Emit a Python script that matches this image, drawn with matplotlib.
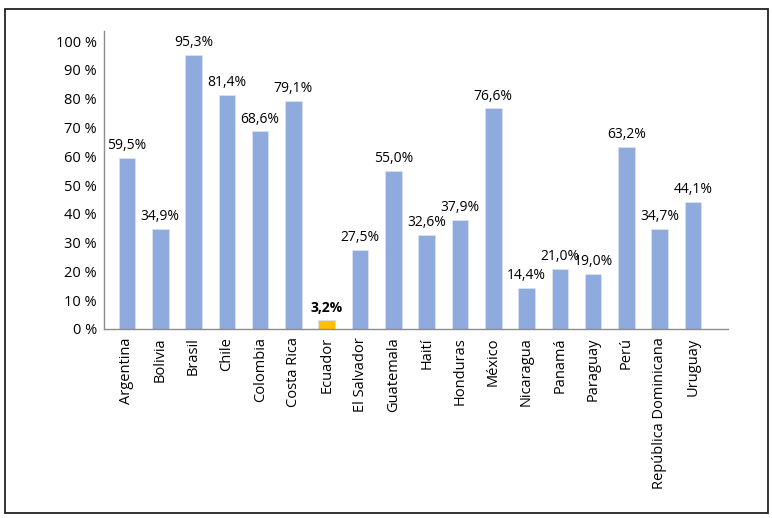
import matplotlib.pyplot as plt
from matplotlib.patches import Rectangle
import numpy as np

plt.rcParams['font.family'] = ['Open Sans', 'DejaVu Sans']

countries = ['Argentina', 'Bolivia', 'Brasil', 'Chile', 'Colombia', 'Costa Rica',
             'Ecuador', 'El Salvador', 'Guatemala', 'Haití', 'Honduras', 'México',
             'Nicaragua', 'Panamá', 'Paraguay', 'Perú', 'República Dominicana', 'Uruguay']
values = [59.5, 34.9, 95.3, 81.4, 68.6, 79.1, 3.2, 27.5, 55.0, 32.6, 37.9, 76.6,
          14.4, 21.0, 19.0, 63.2, 34.7, 44.1]
highlight = 'Ecuador'
yticks = [0, 10, 20, 30, 40, 50, 60, 70, 80, 90, 100]

W, H = 772, 518
fig = plt.figure(figsize=(W / 100, H / 100), dpi=100)
ax = fig.add_axes([104 / W, (H - 329) / H, (728 - 104) / W, (329 - 31) / H])

# marco exterior
fig.patches.append(Rectangle((5 / W, (H - 513) / H), 763 / W, 504 / H,
                             transform=fig.transFigure, fill=False,
                             edgecolor='#222222', linewidth=1.3))

x = np.arange(len(countries))
colors = ['#FFC000' if c == highlight else '#8FAADC' for c in countries]
ax.bar(x, values, width=0.5, color=colors, edgecolor='#D9E2F3', linewidth=0.6)

for xi, v, c in zip(x, values, countries):
    ax.annotate(f'{v:.1f}%'.replace('.', ','), (xi, v), xytext=(0, 3.5),
                textcoords='offset points', ha='center', va='bottom',
                fontsize=10, color='#000000',
                fontweight='bold' if c == highlight else 'normal')

ax.set_xlim(-0.69, 18.05)
ax.set_ylim(0, 103.5)
ax.set_yticks(yticks)
ax.set_yticklabels([f'{t} %' for t in yticks], fontsize=10.5, color='#000000')
ax.set_xticks(x)
ax.set_xticklabels(countries, rotation=90, fontsize=10.5, color='#000000')
ax.tick_params(length=0, pad=6)
ax.tick_params(axis='y', pad=5)

for s in ['top', 'right']:
    ax.spines[s].set_visible(False)
for s in ['left', 'bottom']:
    ax.spines[s].set_color('#8C8C8C')
    ax.spines[s].set_linewidth(1.0)

fig.savefig('out.png', dpi=100)
